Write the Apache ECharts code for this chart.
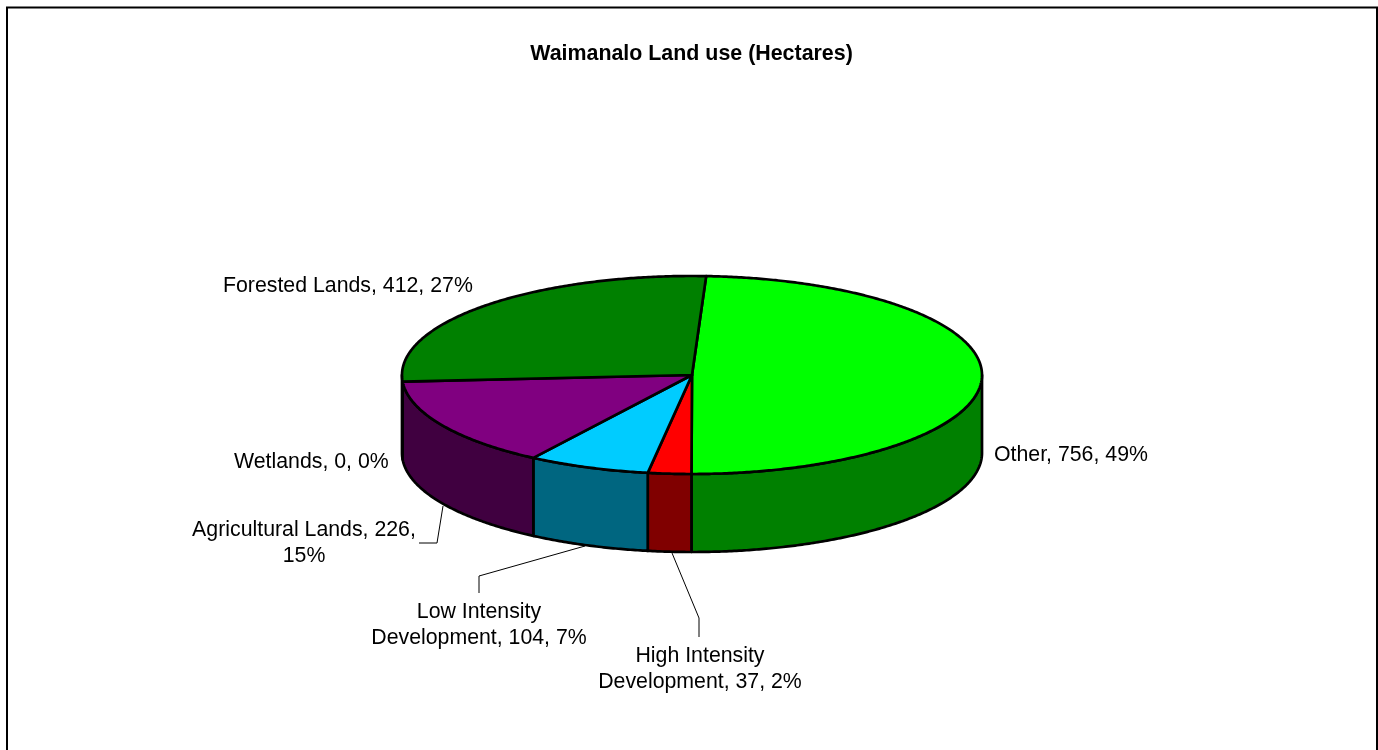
<!DOCTYPE html>
<html>
<head>
<meta charset="utf-8">
<title>Waimanalo Land use</title>
<style>
  html, body { margin: 0; padding: 0; background: #fff; }
  #main { width: 1378px; height: 750px; }
</style>
<script src="https://cdn.jsdelivr.net/npm/echarts@6/dist/echarts.min.js"></script>
</head>
<body>
<div id="main"></div>
<script>
// data, clockwise from the start of the first slice
var categories = ['Other', 'High Intensity Development', 'Low Intensity Development', 'Agricultural Lands', 'Wetlands', 'Forested Lands'];
var hectares = [756, 37, 104, 226, 0, 412];

var topColors = ['#00ff00', '#ff0000', '#00ccff', '#800080', '#ff00ff', '#008000'];
var sideColors = ['#008000', '#800000', '#006680', '#400040', '#800080', '#004000'];

// pie geometry
var cx = 692, cy = 375, rx = 290, ry = 99, depth = 78;
var startDeg = 2.8;

// label placement: x, y of first line, alignment, and how the text wraps
var labelSpots = [
  { x: 994, y: 455, align: 'left', lines: ['{c}, {v}, {p}%'] },
  { x: 700, y: 656, align: 'center', lines: ['High Intensity', 'Development, {v}, {p}%'] },
  { x: 479, y: 612, align: 'center', lines: ['Low Intensity', 'Development, {v}, {p}%'] },
  { x: 304, y: 530, align: 'center', lines: ['{c}, {v},', '{p}%'] },
  { x: 234, y: 462, align: 'left', lines: ['{c}, {v}, {p}%'] },
  { x: 223, y: 286, align: 'left', lines: ['{c}, {v}, {p}%'] }
];
var leaders = [
  null,
  [[699, 637], [699, 618], [672, 553]],
  [[479, 593], [479, 576], [585, 546]],
  [[419, 543], [437, 543], [443, 506]],
  null,
  null
];

var total = hectares.reduce(function (a, b) { return a + b; }, 0);
var sliceStart = [];
hectares.reduce(function (acc, v, i) {
  sliceStart[i] = acc;
  return acc + v / total * 360;
}, startDeg);

function rimPoint(deg, dy) {
  var r = deg * Math.PI / 180;
  return [cx + rx * Math.sin(r), cy - ry * Math.cos(r) + (dy || 0)];
}

function arcPoints(a, b, dy) {
  var pts = [];
  var n = Math.max(2, Math.ceil(Math.abs(b - a) * 2));
  for (var i = 0; i <= n; i++) pts.push(rimPoint(a + (b - a) * i / n, dy));
  return pts;
}

var lineStyle = { stroke: '#000', lineWidth: 2.7, lineJoin: 'round' };

function renderSide(params, api) {
  var i = params.dataIndex;
  var a = sliceStart[i];
  var b = a + api.value(1) / total * 360;
  // only the front half of the rim is visible
  var from = Math.max(a, 90), to = Math.min(b, 270);
  if (to <= from) return { type: 'group', children: [] };
  var pts = arcPoints(from, to, 0).concat(arcPoints(to, from, depth));
  return {
    type: 'polygon',
    shape: { points: pts },
    style: Object.assign({ fill: sideColors[i] }, lineStyle)
  };
}

function renderTop(params, api) {
  var i = params.dataIndex;
  var a = sliceStart[i];
  var b = a + api.value(1) / total * 360;
  if (b <= a) return { type: 'group', children: [] };
  return {
    type: 'polygon',
    shape: { points: [[cx, cy]].concat(arcPoints(a, b, 0)) },
    style: Object.assign({ fill: topColors[i] }, lineStyle)
  };
}

function renderLabel(params, api) {
  var i = params.dataIndex;
  var v = api.value(1);
  var spot = labelSpots[i];
  var pct = Math.round(v / total * 100);
  var children = [];
  spot.lines.forEach(function (tpl, k) {
    children.push({
      type: 'text',
      style: {
        x: spot.x,
        y: spot.y + k * 26,
        text: tpl.replace('{c}', categories[i]).replace('{v}', v).replace('{p}', pct),
        align: spot.align,
        verticalAlign: 'middle',
        fill: '#000',
        font: '21.3px "Liberation Sans", Arial, sans-serif'
      }
    });
  });
  if (leaders[i]) {
    children.push({
      type: 'polyline',
      shape: { points: leaders[i] },
      style: { stroke: '#000', lineWidth: 1, fill: null }
    });
  }
  return { type: 'group', children: children };
}

var rows = categories.map(function (c, i) { return [c, hectares[i]]; });

var chart = echarts.init(document.getElementById('main'), null, { renderer: 'canvas' });
chart.setOption({
  animation: false,
  backgroundColor: '#fff',
  title: {
    text: 'Waimanalo Land use (Hectares)',
    left: 686.5,
    top: 39,
    textAlign: 'center',
    textStyle: { fontFamily: '"Liberation Sans", Arial, sans-serif', fontSize: 21.4, fontWeight: 'bold', color: '#000' }
  },
  graphic: [{
    // chart frame runs off the bottom of the page
    type: 'polyline',
    silent: true,
    shape: { points: [[7, 770], [7, 7.5], [1377, 7.5], [1377, 770]] },
    style: { fill: null, stroke: '#000', lineWidth: 2 }
  }],
  series: [
    { type: 'custom', coordinateSystem: 'none', silent: true, z: 2, data: rows, renderItem: renderSide },
    { type: 'custom', coordinateSystem: 'none', silent: true, z: 3, data: rows, renderItem: renderTop },
    { type: 'custom', coordinateSystem: 'none', silent: true, z: 4, data: rows, renderItem: renderLabel }
  ]
});
</script>
</body>
</html>
